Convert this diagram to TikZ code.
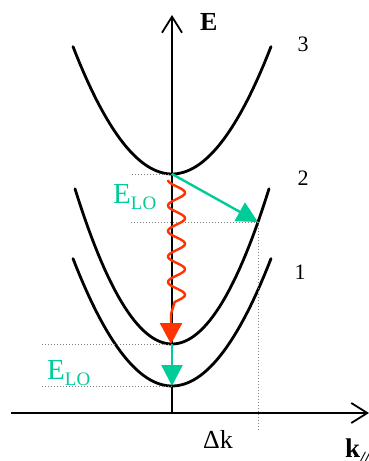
\documentclass[tikz,border=0pt]{standalone}
\usepackage{fontspec}
\setmainfont{Liberation Serif}
\usetikzlibrary{arrows.meta,positioning}
\definecolor{loGreen}{RGB}{0,204,153}
\definecolor{phRed}{RGB}{255,51,0}
\newcommand{\ELO}{E\raisebox{-6pt}{\fontsize{19}{19}\selectfont LO}}

\begin{document}
\begin{tikzpicture}[
        x=1pt, y=-1pt,
        band/.style={line width=2.8pt, line cap=round},
        axis/.style={line width=1.8pt, -{Straight Barb[length=16pt, width=20pt, line width=1.8pt]}},
        guide/.style={dotted, gray, line width=1pt},
        lo/.style={loGreen, line width=2.4pt, -{Triangle[length=21pt, width=21pt]}},
        phonon/.style={phRed, line width=2.4pt, -{Triangle[length=21pt, width=22pt]}},
        num/.style={font=\fontsize{22}{22}\selectfont, inner sep=0pt},
        big/.style={font=\fontsize{26}{26}\selectfont, inner sep=0pt, anchor=base west},
        elo/.style={font=\fontsize{29}{29}\selectfont, text=loGreen, inner sep=0pt, anchor=base west},
    ]
        \useasboundingbox (0,0) rectangle (369,461);

        % Band minima and the point hit on band 2
        \coordinate (origin) at (172,413);
        \coordinate (v3) at (172,174);
        \coordinate (v2) at (172,344);
        \coordinate (v1) at (172,386);
        \coordinate (hit) at (258,222);
        \coordinate (etop) at (172,15);
        \coordinate (kleft) at (11,413);
        \coordinate (kright) at (369,413);

        % Axes
        \draw [axis] (origin) -- (etop);
        \draw [axis] (kleft) -- (kright);

        % Subbands
        \draw [band] plot[domain=-99:99, samples=60] ({172+\x}, {174-0.013*\x*\x});
        \draw [band] plot[domain=-97:97, samples=60] ({172+\x}, {344-0.0165*\x*\x});
        \draw [band] plot[domain=-99:99, samples=60] ({172+\x}, {386-0.013*\x*\x});

        % Guide lines
        \draw [guide] (v3) -- ++(-42,0);
        \draw [guide] (hit) -- ++(-128,0);
        \draw [guide] (hit) -- ++(0,208);
        \draw [guide] (v2) -- ++(-130,0);
        \draw [guide] (v1) -- ++(-130,0);

        % Phonon emission (wavy) and LO scattering
        \draw [phonon] plot[domain=0:122, samples=120] ({176.5-8.5*cos(\x*14.1176)}, {180+\x}) -- (171,314) -- (171,344);
        \draw [lo] (v3) -- (hit);
        \draw [lo] (v2) -- (v1);

        % Labels
        \node (elabel) [big, font=\fontsize{26}{26}\selectfont\bfseries] at (200,30) {E};
        \node (n3) [num] at (303,44) {3};
        \node (n2) [num] at (303,178) {2};
        \node (n1) [num] at (300,272) {1};
        \node (elo1) [elo] at (113,203) {\ELO};
        \node (elo2) [elo] at (47,379) {\ELO};
        \node (dk) [big] at (203,448) {Δk};
        \node (klabel) [big, font=\fontsize{27}{27}\selectfont\bfseries] at (345,457) {k\raisebox{-6pt}{\fontsize{17}{17}\selectfont\itshape //}};
    \end{tikzpicture}
\end{document}
